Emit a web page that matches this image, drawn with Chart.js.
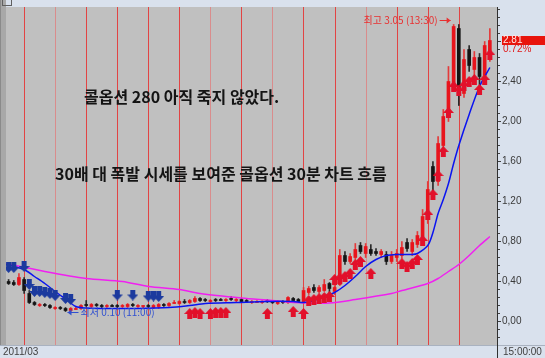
<!DOCTYPE html>
<html>
<head>
<meta charset="utf-8">
<script src="https://cdn.jsdelivr.net/npm/chart.js@4.4.1/dist/chart.umd.min.js"></script>
<style>
html, body { margin: 0; padding: 0; background: #d9e1ed; }
canvas { display: block; }
</style>
</head>
<body>
<canvas id="myChart" width="545" height="358"></canvas>
<script>
// 30분봉 캔들 (인덱스 0..93)
var opens = [
    0.40, 0.39, 0.37, 0.42, 0.28, 0.19, 0.16, 0.17, 0.16, 0.13,
    0.14, 0.13, 0.11, 0.13, 0.13, 0.17, 0.15, 0.17, 0.16, 0.15,
    0.16, 0.16, 0.15, 0.15, 0.17, 0.15, 0.15, 0.16, 0.14, 0.15,
    0.17, 0.16, 0.19, 0.18, 0.20, 0.19, 0.20, 0.23, 0.22, 0.20,
    0.22, 0.22, 0.21, 0.23, 0.21, 0.22, 0.21, 0.19, 0.20, 0.19,
    0.21, 0.20, 0.18, 0.20, 0.19, 0.23, 0.22, 0.19, 0.29, 0.34,
    0.30, 0.31, 0.38, 0.30, 0.37, 0.66, 0.60, 0.64, 0.76, 0.68,
    0.72, 0.70, 0.67, 0.67, 0.60, 0.64, 0.66, 0.79, 0.70, 0.77,
    0.84, 1.02, 1.55, 1.40, 1.76, 2.04, 2.35, 2.93, 2.28, 2.72,
    2.52, 2.64, 2.46, 2.64
];
var highs = [
    0.42, 0.41, 0.48, 0.44, 0.31, 0.20, 0.18, 0.18, 0.17, 0.15,
    0.15, 0.14, 0.14, 0.15, 0.17, 0.21, 0.18, 0.18, 0.17, 0.17,
    0.17, 0.17, 0.17, 0.18, 0.18, 0.17, 0.16, 0.17, 0.17, 0.18,
    0.18, 0.19, 0.21, 0.21, 0.22, 0.22, 0.25, 0.24, 0.23, 0.22,
    0.23, 0.23, 0.23, 0.25, 0.23, 0.23, 0.22, 0.21, 0.21, 0.21,
    0.22, 0.21, 0.21, 0.21, 0.25, 0.24, 0.23, 0.34, 0.35, 0.37,
    0.36, 0.42, 0.39, 0.36, 0.72, 0.70, 0.68, 0.78, 0.79, 0.78,
    0.77, 0.73, 0.72, 0.70, 0.70, 0.72, 0.80, 0.83, 0.82, 0.90,
    1.12, 1.40, 1.60, 1.85, 2.12, 2.55, 2.97, 2.97, 2.72, 2.76,
    2.70, 2.68, 2.80, 2.93
];
var lows = [
    0.37, 0.36, 0.36, 0.28, 0.18, 0.16, 0.15, 0.15, 0.13, 0.12,
    0.12, 0.10, 0.10, 0.12, 0.12, 0.15, 0.14, 0.15, 0.14, 0.14,
    0.15, 0.14, 0.14, 0.14, 0.15, 0.14, 0.13, 0.14, 0.13, 0.13,
    0.15, 0.15, 0.18, 0.17, 0.18, 0.18, 0.19, 0.20, 0.20, 0.19,
    0.20, 0.21, 0.20, 0.21, 0.19, 0.19, 0.19, 0.18, 0.19, 0.18,
    0.19, 0.18, 0.17, 0.18, 0.18, 0.20, 0.19, 0.18, 0.27, 0.29,
    0.28, 0.30, 0.28, 0.27, 0.36, 0.57, 0.58, 0.62, 0.68, 0.64,
    0.66, 0.66, 0.64, 0.57, 0.58, 0.60, 0.63, 0.70, 0.66, 0.74,
    0.82, 0.98, 1.25, 1.36, 1.70, 2.00, 2.30, 2.16, 2.24, 2.50,
    2.44, 2.36, 2.42, 2.60
];
var closes = [
    0.38, 0.37, 0.44, 0.31, 0.19, 0.17, 0.17, 0.16, 0.14, 0.14,
    0.13, 0.11, 0.13, 0.13, 0.16, 0.16, 0.17, 0.16, 0.15, 0.16,
    0.15, 0.15, 0.16, 0.17, 0.16, 0.16, 0.16, 0.15, 0.16, 0.17,
    0.16, 0.18, 0.19, 0.20, 0.19, 0.21, 0.23, 0.21, 0.21, 0.21,
    0.21, 0.21, 0.22, 0.22, 0.22, 0.20, 0.20, 0.20, 0.20, 0.20,
    0.20, 0.19, 0.20, 0.19, 0.24, 0.21, 0.20, 0.31, 0.33, 0.31,
    0.34, 0.37, 0.33, 0.34, 0.66, 0.60, 0.65, 0.72, 0.70, 0.75,
    0.68, 0.68, 0.70, 0.60, 0.66, 0.68, 0.74, 0.73, 0.79, 0.86,
    1.05, 1.32, 1.40, 1.78, 2.05, 2.40, 2.95, 2.30, 2.62, 2.56,
    2.64, 2.45, 2.76, 2.81
];

// 이동평균선 (읽은 값)
var blueMaX = [-0.5, 1, 3, 5, 7, 9, 11, 13, 15, 20, 25, 31, 35, 38, 44, 50, 55, 57, 59, 61, 63, 65, 67, 69, 71, 73, 75, 78, 79, 81, 82, 83, 84, 85, 86, 87, 89, 91, 93];
var blueMaY = [0.57, 0.55, 0.52, 0.45, 0.38, 0.30, 0.225, 0.15, 0.135, 0.13, 0.13, 0.14, 0.16, 0.18, 0.19, 0.20, 0.20, 0.19, 0.21, 0.25, 0.29, 0.36, 0.45, 0.55, 0.62, 0.66, 0.67, 0.67, 0.68, 0.76, 0.89, 1.08, 1.22, 1.38, 1.58, 1.76, 2.07, 2.35, 2.54];
var pinkMaX = [-0.5, 7, 15, 22, 27, 33, 37, 45, 51, 55, 62, 67, 74, 76, 81, 83, 85, 87, 89, 91, 93];
var pinkMaY = [0.58, 0.50, 0.43, 0.40, 0.35, 0.32, 0.28, 0.235, 0.21, 0.19, 0.185, 0.22, 0.28, 0.31, 0.38, 0.43, 0.50, 0.57, 0.66, 0.76, 0.85];

// 매수/매도 신호
var sellX = [0, 1, 3, 4, 5, 6, 7, 8, 9, 11, 12, 21, 24, 27, 28, 29];
var sellY = [0.54, 0.54, 0.55, 0.37, 0.30, 0.30, 0.29, 0.28, 0.26, 0.23, 0.22, 0.265, 0.265, 0.255, 0.255, 0.25];
var buyX = [35, 36, 37, 39, 40, 41, 42, 50, 55, 57, 58, 59, 60, 61, 62, 63, 64, 65, 66, 67, 68, 70, 76, 77, 78, 79, 80, 81, 82, 83, 84, 85, 86, 87, 88, 89, 90, 91, 92, 93];
var buyY = [0.08, 0.09, 0.08, 0.08, 0.09, 0.09, 0.09, 0.08, 0.10, 0.08, 0.21, 0.22, 0.23, 0.24, 0.25, 0.42, 0.43, 0.45, 0.48, 0.57, 0.60, 0.48, 0.58, 0.55, 0.58, 0.62, 0.81, 1.07, 1.27, 1.46, 1.70, 2.09, 2.35, 2.31, 2.36, 2.40, 2.42, 2.32, 2.42, 2.67];

// 날짜 구분선
var dayLines = [3.08, 9.08, 15.08, 21.08, 27.08, 33.08, 39.08, 45.08, 51.08, 57.08, 63.08, 69.08, 75.08, 81.08, 87.08];
var lightLines = [1, 6, 8, 11];

function makeArrow(color, up) {
    var c = document.createElement('canvas');
    c.width = 11;
    c.height = 11;
    var g = c.getContext('2d');
    g.fillStyle = color;
    g.beginPath();
    if (up) {
        g.moveTo(5.5, 0); g.lineTo(11, 6); g.lineTo(8, 6); g.lineTo(8, 11);
        g.lineTo(3, 11); g.lineTo(3, 6); g.lineTo(0, 6);
    } else {
        g.moveTo(3, 0); g.lineTo(8, 0); g.lineTo(8, 5); g.lineTo(11, 5);
        g.lineTo(5.5, 11); g.lineTo(0, 5); g.lineTo(3, 5);
    }
    g.closePath();
    g.fill();
    return c;
}

var upColor = [], wickColor = [];
for (var i = 0; i < opens.length; i++) {
    var up = closes[i] >= opens[i];
    upColor.push(up ? '#e8141c' : '#141414');
    wickColor.push(up ? '#e43a3a' : '#2a2a2a');
}

function pts(xs, ys) {
    return xs.map(function(x, k) { return { x: x, y: ys[k] }; });
}

var overlay = {
    id: 'overlay',
    beforeDraw: function(chart) {
        var c = chart.ctx, a = chart.chartArea;
        c.save();
        c.fillStyle = '#d9e1ed';
        c.fillRect(0, 0, chart.width, chart.height);
        c.fillStyle = '#c0c0c0';
        c.fillRect(a.left, a.top, a.right - a.left, a.bottom - a.top);
        c.fillStyle = '#8a8a8a';
        c.fillRect(0, 0, 1, a.bottom);
        c.fillStyle = '#a8a8a8';
        c.fillRect(1, 0, a.left - 1, a.bottom);
        c.restore();
    },
    afterDraw: function(chart) {
        var c = chart.ctx, a = chart.chartArea;
        var xs = chart.scales.x, ys = chart.scales.y;
        c.save();
        // 하단 시간 띠
        c.strokeStyle = '#a9b2c0';
        c.beginPath(); c.moveTo(0, a.bottom + 0.5); c.lineTo(chart.width, a.bottom + 0.5); c.stroke();
        c.strokeStyle = '#303030';
        c.beginPath(); c.moveTo(a.right + 0.5, a.bottom); c.lineTo(a.right + 0.5, chart.height); c.stroke();
        c.font = '10px "Liberation Sans"';
        c.fillStyle = '#404040';
        c.textBaseline = 'middle';
        c.fillText('2011/03', 3, 352);
        c.fillText('15:00:00', a.right + 6, 352);
        // 좌상단 아이콘
        c.strokeStyle = '#606060';
        c.strokeRect(2.5, -2.5, 9, 8);

        // 설명 문구
        c.fillStyle = '#141414';
        c.font = 'bold 16px "Noto Sans CJK KR"';
        c.fillText('콜옵션 280 아직 죽지 않았다.', 84, 97);
        c.fillText('30배 대 폭발 시세를 보여준 콜옵션 30분 차트 흐름', 55, 174);

        // 최고가
        var hx = xs.getPixelForValue(86) - 3;
        var hy = Math.round(ys.getPixelForValue(highs[86]) - 4) + 0.5;
        c.strokeStyle = '#e83030';
        c.fillStyle = '#e83030';
        c.beginPath(); c.moveTo(hx - 11, hy); c.lineTo(hx, hy); c.stroke();
        c.beginPath(); c.moveTo(hx, hy); c.lineTo(hx - 4, hy - 3); c.lineTo(hx - 4, hy + 3); c.closePath(); c.fill();
        c.font = '10px "Noto Sans CJK KR"';
        c.textAlign = 'right';
        c.fillText('최고 3.05 (13:30)', hx - 13, hy);

        // 최저가
        var lx = xs.getPixelForValue(11) + 2;
        var ly = Math.round(ys.getPixelForValue(lows[11])) + 0.5;
        c.strokeStyle = '#3050d0';
        c.fillStyle = '#3050d0';
        c.beginPath(); c.moveTo(lx, ly); c.lineTo(lx + 11, ly); c.stroke();
        c.beginPath(); c.moveTo(lx, ly); c.lineTo(lx + 4, ly - 3); c.lineTo(lx + 4, ly + 3); c.closePath(); c.fill();
        c.textAlign = 'left';
        c.fillText('최저 0.10 (11:00)', lx + 13, ly);

        // 현재가 표시
        var last = closes.length - 1;
        var py = ys.getPixelForValue(closes[last]);
        c.fillStyle = '#e8140c';
        c.fillRect(a.right + 5, Math.round(py - 4.5), chart.width - a.right - 5, 9);
        c.font = '10px "Liberation Sans"';
        c.fillStyle = '#ffe8e8';
        c.fillText('2.81', a.right + 6, py);
        c.fillStyle = '#e01818';
        c.fillText('0.72%', a.right + 6, py + 9);
        c.restore();
    }
};

var ctx = document.getElementById('myChart').getContext('2d');

var myChart = new Chart(ctx, {
    type: 'bar',
    data: {
        datasets: [
            {
                type: 'line',
                label: 'sell',
                data: pts(sellX, sellY),
                showLine: false,
                pointStyle: makeArrow('#1c3a9e', false),
                pointRadius: 5,
                order: 1
            },
            {
                type: 'line',
                label: 'buy',
                data: pts(buyX, buyY),
                showLine: false,
                pointStyle: makeArrow('#e2102a', true),
                pointRadius: 5,
                order: 1
            },
            {
                type: 'line',
                label: 'ma short',
                data: pts(blueMaX, blueMaY),
                borderColor: '#0a14f0',
                borderWidth: 1.5,
                pointRadius: 0,
                tension: 0.3,
                order: 2
            },
            {
                type: 'line',
                label: 'ma long',
                data: pts(pinkMaX, pinkMaY),
                borderColor: '#f020f0',
                borderWidth: 1.5,
                pointRadius: 0,
                tension: 0.3,
                order: 3
            },
            {
                label: 'body',
                data: opens.map(function(o, k) { return { x: k, y: [o, closes[k]] }; }),
                backgroundColor: upColor,
                barThickness: 3,
                minBarLength: 1,
                grouped: false,
                order: 4
            },
            {
                label: 'wick',
                data: lows.map(function(l, k) { return { x: k, y: [l, highs[k]] }; }),
                backgroundColor: wickColor,
                barThickness: 1,
                grouped: false,
                order: 5
            }
        ]
    },
    options: {
        responsive: false,
        animation: false,
        devicePixelRatio: 1,
        events: [],
        layout: { padding: { left: 2, top: 0, right: 0, bottom: 0 } },
        plugins: {
            legend: { display: false },
            tooltip: { enabled: false }
        },
        scales: {
            x: {
                type: 'linear',
                min: -0.5,
                max: 94.38,
                offset: false,
                border: { display: false },
                ticks: { display: false },
                grid: {
                    offset: false,
                    drawTicks: false,
                    color: function(c) {
                        return lightLines.indexOf(c.index) >= 0 ? '#d98c8c' : '#e24444';
                    }
                },
                afterBuildTicks: function(scale) {
                    scale.ticks = dayLines.map(function(v) { return { value: v }; });
                },
                afterFit: function(scale) { scale.height = 13; }
            },
            y: {
                position: 'right',
                min: -0.235,
                max: 3.145,
                border: { display: true, color: '#303030', width: 1 },
                grid: {
                    drawOnChartArea: false,
                    tickLength: 4,
                    tickColor: '#404040',
                    tickBorderDash: function(c) {
                        var v = c.tick ? c.tick.value : 0;
                        return Math.abs(v / 0.4 - Math.round(v / 0.4)) < 1e-6 ? [] : [2, 6];
                    }
                },
                ticks: {
                    autoSkip: false,
                    padding: 1,
                    color: '#3a3a3a',
                    font: { family: 'Liberation Sans', size: 10 },
                    callback: function(v) {
                        if (v > 2.5) return '';
                        if (Math.abs(v / 0.4 - Math.round(v / 0.4)) < 1e-6) {
                            return v.toFixed(2).replace('.', ',');
                        }
                        return '';
                    }
                },
                afterBuildTicks: function(scale) {
                    var t = [];
                    for (var k = -2; k <= 39; k++) t.push({ value: Math.round(k * 8) / 100 });
                    scale.ticks = t;
                },
                afterFit: function(scale) { scale.width = 48; }
            }
        }
    },
    plugins: [overlay]
});
</script>
</body>
</html>
